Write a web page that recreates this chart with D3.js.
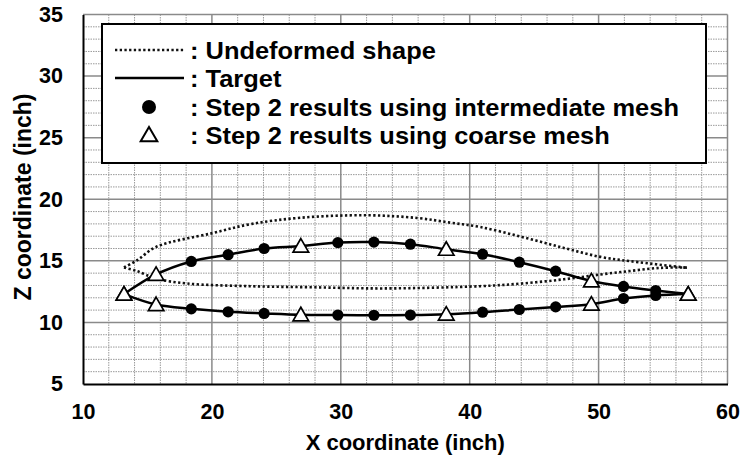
<!DOCTYPE html>
<html>
<head>
<meta charset="utf-8">
<script src="https://cdn.jsdelivr.net/npm/d3@7"></script>
<style>
  html, body { margin: 0; padding: 0; background: #fff; }
  svg { display: block; }
  text { font-family: "Liberation Sans", Arial, sans-serif; font-weight: bold; fill: #000; }
</style>
</head>
<body>
<svg id="chart" width="744" height="459"></svg>
<script>
// Axis ticks
const xTicks = [10, 20, 30, 40, 50, 60];
const yTicks = [5, 10, 15, 20, 25, 30, 35];

// Undeformed airfoil outline (dotted)
const undeformedUpperX = [13.18, 14.2, 15.67, 20.0, 23.0, 26.9, 32.0, 35.9, 38.5, 40.8, 44.06, 47.3, 50.14, 52.47, 56.9];
const undeformedUpperZ = [14.46, 15.05, 16.13, 17.24, 17.98, 18.5, 18.7, 18.48, 18.1, 17.75, 16.94, 16.05, 15.32, 14.97, 14.43];
const undeformedLowerX = [13.18, 14.2, 15.67, 18.07, 23.0, 28.0, 33.3, 40.8, 44.06, 47.3, 50.14, 52.47, 54.8, 56.9];
const undeformedLowerZ = [14.46, 14.16, 13.56, 13.16, 12.94, 12.85, 12.76, 12.94, 13.16, 13.5, 13.89, 14.18, 14.43, 14.45];

// Target shape (solid)
const targetX = [13.18, 15.67, 18.40, 21.26, 24.05, 26.90, 29.77, 32.57, 35.40, 38.18, 41.00, 43.85, 46.67, 49.44, 51.93, 54.43, 56.95];
const targetUpperZ = [12.30, 13.90, 14.95, 15.50, 16.00, 16.20, 16.48, 16.52, 16.35, 15.94, 15.54, 14.89, 14.16, 13.37, 12.92, 12.59, 12.30];
const targetLowerZ = [12.30, 11.45, 11.10, 10.86, 10.73, 10.62, 10.60, 10.58, 10.60, 10.67, 10.83, 11.05, 11.26, 11.48, 11.94, 12.19, 12.30];

// Step 2 results, intermediate mesh (filled circles)
const intermediateX = [18.40, 21.26, 24.05, 29.77, 32.57, 35.40, 41.00, 43.85, 46.67, 51.93, 54.43];
const intermediateUpperZ = [14.95, 15.50, 16.00, 16.48, 16.52, 16.35, 15.54, 14.89, 14.16, 12.92, 12.59];
const intermediateLowerZ = [11.10, 10.86, 10.73, 10.60, 10.58, 10.60, 10.83, 11.05, 11.26, 11.94, 12.19];

// Step 2 results, coarse mesh (open triangles)
const coarseX = [13.18, 15.67, 26.90, 38.18, 49.44, 56.95];
const coarseUpperZ = [12.30, 13.90, 16.20, 15.94, 13.37, 12.30];
const coarseLowerZ = [12.30, 11.45, 10.62, 10.67, 11.48, 12.30];

const legendLabels = [
  ": Undeformed shape",
  ": Target",
  ": Step 2 results using intermediate mesh",
  ": Step 2 results using coarse mesh"
];

const svg = d3.select("#chart");
const L = 83, R = 727.5, T = 14.5, B = 384;

const x = d3.scaleLinear().domain([10, 60]).range([L, R]);
const y = d3.scaleLinear().domain([5, 35]).range([B, T]);

// Grid
const grid = svg.append("g");
const minorX = d3.range(12, 60, 2).filter(v => v % 10 !== 0);
const minorY = d3.range(6, 35, 1).filter(v => v % 5 !== 0);
grid.selectAll(".mx").data(minorX).join("line")
  .attr("x1", d => x(d)).attr("x2", d => x(d)).attr("y1", T).attr("y2", B)
  .attr("stroke", "#9a9a9a").attr("stroke-width", 1).attr("stroke-dasharray", "1.5,1");
grid.selectAll(".my").data(minorY).join("line")
  .attr("x1", L).attr("x2", R).attr("y1", d => y(d)).attr("y2", d => y(d))
  .attr("stroke", "#9a9a9a").attr("stroke-width", 1).attr("stroke-dasharray", "1.5,1");
grid.selectAll(".Mx").data(xTicks.slice(1, -1)).join("line")
  .attr("x1", d => x(d)).attr("x2", d => x(d)).attr("y1", T).attr("y2", B)
  .attr("stroke", "#8a8a8a").attr("stroke-width", 1.5);
grid.selectAll(".My").data(yTicks.slice(1, -1)).join("line")
  .attr("x1", L).attr("x2", R).attr("y1", d => y(d)).attr("y2", d => y(d))
  .attr("stroke", "#8a8a8a").attr("stroke-width", 1.5);

// Frame: grey top/right, black left/bottom
svg.append("line").attr("x1", L).attr("x2", R).attr("y1", T).attr("y2", T).attr("stroke", "#8a8a8a").attr("stroke-width", 1.5);
svg.append("line").attr("x1", R).attr("x2", R).attr("y1", T).attr("y2", B).attr("stroke", "#8a8a8a").attr("stroke-width", 1.5);

// Axes via d3 axis generators, labels only
const xAxis = svg.append("g").attr("transform", `translate(0,${B})`)
  .call(d3.axisBottom(x).tickValues(xTicks).tickSize(0).tickPadding(20).tickFormat(d3.format("d")));
const yAxis = svg.append("g").attr("transform", `translate(${L},0)`)
  .call(d3.axisLeft(y).tickValues(yTicks).tickSize(0).tickPadding(20).tickFormat(d3.format("d")));
[xAxis, yAxis].forEach(g => {
  g.select(".domain").attr("stroke", "#000").attr("stroke-width", 2);
  g.selectAll("text").attr("font-size", 21.5).attr("font-family", "Liberation Sans, Arial, sans-serif")
    .attr("font-weight", "bold").attr("fill", "#000");
});

svg.append("text").attr("x", (L + R) / 2).attr("y", 450).attr("text-anchor", "middle")
  .attr("font-size", 22).text("X coordinate (inch)");
svg.append("text").attr("transform", `translate(31,197) rotate(-90)`)
  .attr("text-anchor", "middle").attr("font-size", 23).text("Z coordinate (inch)");

// Curves
const lineOf = (xs, zs) => d3.line().curve(d3.curveCatmullRom.alpha(0.5))(xs.map((v, i) => [x(v), y(zs[i])]));
const plot = svg.append("g");
[[undeformedUpperX, undeformedUpperZ], [undeformedLowerX, undeformedLowerZ]].forEach(([xs, zs]) => {
  plot.append("path").attr("d", lineOf(xs, zs)).attr("fill", "none")
    .attr("stroke", "#111").attr("stroke-width", 2.6).attr("stroke-dasharray", "2.3,2.4");
});
[targetUpperZ, targetLowerZ].forEach(zs => {
  plot.append("path").attr("d", lineOf(targetX, zs)).attr("fill", "none")
    .attr("stroke", "#000").attr("stroke-width", 2.5);
});

// Markers
const circles = intermediateX.flatMap((v, i) => [[v, intermediateUpperZ[i]], [v, intermediateLowerZ[i]]]);
plot.selectAll(".c").data(circles).join("circle")
  .attr("cx", d => x(d[0])).attr("cy", d => y(d[1])).attr("r", 5.6).attr("fill", "#000");
const tri = d3.symbol().type(d3.symbolTriangle).size(105);
const tris = coarseX.flatMap((v, i) => [[v, coarseUpperZ[i]], [v, coarseLowerZ[i]]]);
plot.selectAll(".t").data(tris).join("path")
  .attr("d", tri).attr("transform", d => `translate(${x(d[0])},${y(d[1]) + 1.5})`)
  .attr("fill", "#fff").attr("stroke", "#000").attr("stroke-width", 1.7);

// Legend
const lg = svg.append("g");
lg.append("rect").attr("x", 102).attr("y", 24).attr("width", 604).attr("height", 139)
  .attr("fill", "#fff").attr("stroke", "#000").attr("stroke-width", 2);
const rowY = [50, 78, 107, 135];
lg.append("line").attr("x1", 115).attr("x2", 184).attr("y1", rowY[0]).attr("y2", rowY[0])
  .attr("stroke", "#111").attr("stroke-width", 2.6).attr("stroke-dasharray", "2.3,2.4");
lg.append("line").attr("x1", 115).attr("x2", 184).attr("y1", rowY[1]).attr("y2", rowY[1])
  .attr("stroke", "#000").attr("stroke-width", 2.5);
lg.append("circle").attr("cx", 149).attr("cy", rowY[2]).attr("r", 7).attr("fill", "#000");
lg.append("path").attr("d", d3.symbol().type(d3.symbolTriangle).size(120))
  .attr("transform", `translate(149,${rowY[3] + 1.5})`)
  .attr("fill", "#fff").attr("stroke", "#000").attr("stroke-width", 2);
lg.selectAll(".lt").data(legendLabels).join("text")
  .attr("transform", (d, i) => `translate(190,${rowY[i] + 8.5}) scale(1.06,1)`)
  .attr("font-size", 24).text(d => d);
</script>
</body>
</html>
